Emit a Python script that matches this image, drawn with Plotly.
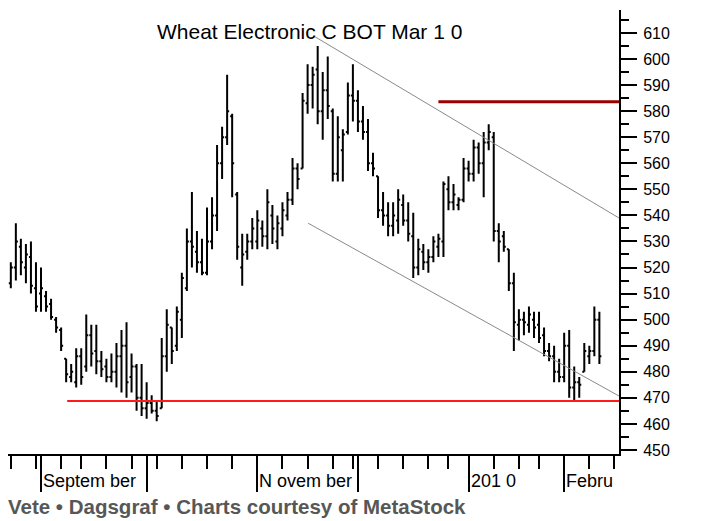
import plotly.graph_objects as go

# Daily bars, Aug 21 2009 - Feb 10 2010 (trading day index on the x axis)
opens = [508, 514, 520, 528, 520, 524, 512, 510, 509, 506, 500, 496, 485, 478, 476, 486, 482, 494, 488, 484,
         482, 478, 480, 486, 490, 478, 482, 470, 466, 468, 465, 466, 486, 497, 490, 500, 512, 530, 526, 522,
         518, 530, 540, 560, 570, 578, 548, 520, 526, 530, 530, 535, 532, 540, 530, 535, 540, 546, 558, 558,
         583, 590, 596, 580, 588, 580, 556, 565, 572, 586, 584, 576, 572, 560, 555, 542, 540, 536, 538, 544,
         538, 532, 520, 526, 522, 524, 528, 530, 550, 545, 544, 546, 558, 556, 566, 560, 568, 570, 534, 532,
         527, 514, 498, 500, 498, 500, 498, 494, 488, 486, 480, 478, 490, 474, 476, 480, 486, 488, 500]
highs = [521, 522, 537, 531, 529, 530, 522, 520, 511, 508, 501, 497, 485, 483, 489, 489, 502, 498, 498, 488,
         485, 487, 491, 496, 499, 487, 483, 483, 476, 471, 469, 493, 504, 497, 505, 518, 535, 549, 534, 531,
         543, 547, 567, 574, 594, 579, 549, 533, 533, 539, 542, 538, 550, 544, 540, 545, 549, 562, 560, 587,
         598, 597, 605, 595, 601, 581, 578, 573, 591, 598, 588, 582, 577, 564, 555, 549, 545, 545, 550, 548,
         545, 541, 531, 529, 527, 532, 533, 553, 555, 552, 547, 562, 561, 569, 568, 572, 575, 572, 537, 534,
         527, 518, 504, 503, 505, 503, 503, 497, 491, 490, 485, 495, 496, 482, 478, 491, 490, 505, 503]
lows = [507, 512, 515, 517, 514, 510, 503, 503, 503, 500, 495, 488, 476, 476, 474, 475, 480, 482, 479, 478,
        476, 476, 474, 472, 470, 472, 465, 463, 462, 464, 461, 466, 480, 483, 488, 493, 511, 520, 518, 517,
        517, 527, 534, 554, 567, 547, 523, 513, 523, 527, 527, 528, 527, 529, 527, 532, 538, 544, 550, 558,
        579, 581, 575, 569, 577, 553, 553, 553, 571, 576, 572, 569, 557, 555, 539, 536, 532, 532, 533, 536,
        530, 516, 517, 519, 518, 522, 524, 524, 542, 542, 542, 545, 553, 553, 556, 547, 565, 530, 522, 526,
        511, 488, 492, 494, 495, 493, 491, 486, 484, 476, 476, 476, 470, 469, 470, 480, 483, 486, 483]
closes = [518, 520, 530, 522, 525, 513, 505, 512, 505, 501, 497, 490, 479, 480, 486, 478, 494, 487, 484, 481,
          478, 480, 486, 490, 476, 482, 470, 466, 468, 465, 463, 486, 498, 488, 503, 516, 530, 528, 522, 518,
          530, 540, 560, 570, 580, 560, 528, 525, 530, 535, 538, 532, 545, 535, 537, 542, 546, 558, 554, 584,
          590, 594, 580, 588, 582, 556, 570, 571, 586, 584, 576, 572, 560, 558, 542, 540, 536, 540, 546, 538,
          533, 520, 527, 522, 524, 530, 531, 552, 545, 548, 546, 558, 556, 566, 560, 568, 572, 534, 530, 528,
          514, 499, 500, 499, 502, 497, 493, 488, 486, 480, 478, 490, 474, 476, 475, 488, 488, 500, 486]
days = list(range(len(closes)))

# x axis: weekly ticks (Mondays) and month starts
week_ticks = [1, 6, 11, 15, 20, 25, 30, 35, 40, 45, 50, 55, 60, 65, 69, 74, 79, 84, 88, 92, 97, 102, 106, 111, 116, 121]
month_starts = [7, 28, 50, 70, 92, 111]
month_labels = ["Septem ber", "", "N ovem ber", "", "201 0", "Febru"]
price_ticks = list(range(450, 620, 10))

# drawn levels and trend channel (day index, price)
support_level = 468.8
support_from = 12.2
resistance_level = 583.6
resistance_from = 86
upper_trend = [(61.5, 608.5), (121.9, 539.0)]
lower_trend = [(60.1, 537.0), (121.9, 470.7)]

x_range = [0.44, 121.9]
y_range = [448.45, 618.8]

FONT = "Liberation Sans, Arial, sans-serif"

fig = go.Figure(go.Ohlc(
    x=days, open=opens, high=highs, low=lows, close=closes,
    increasing_line_color="black", decreasing_line_color="black",
    line_width=2, tickwidth=0.4, showlegend=False, hoverinfo="skip",
))

fig.add_shape(type="line", x0=support_from, x1=x_range[1], y0=support_level, y1=support_level,
              line=dict(color="#ff1a1a", width=2))
fig.add_shape(type="line", x0=resistance_from, x1=x_range[1], y0=resistance_level, y1=resistance_level,
              line=dict(color="#990000", width=3))
for (xa, ya), (xb, yb) in (upper_trend, lower_trend):
    fig.add_shape(type="line", x0=xa, y0=ya, x1=xb, y1=yb, line=dict(color="#8a8a8a", width=1))

for pos, lab in zip(month_starts, month_labels):
    if lab:
        fig.add_annotation(x=pos, y=0, xref="x", yref="paper", text=lab, showarrow=False,
                           xanchor="left", yanchor="middle", xshift=0, yshift=-27,
                           font=dict(family=FONT, size=18, color="black"))

fig.add_annotation(x=0.494, y=1, xref="paper", yref="paper", text="Wheat Electronic C BOT Mar 1 0",
                   showarrow=False, xanchor="center", yanchor="middle", yshift=-21,
                   font=dict(family=FONT, size=21, color="black"))
fig.add_annotation(x=0, y=0, xref="paper", yref="paper",
                   text="<b>Vete • Dagsgraf • Charts courtesy of MetaStock</b>",
                   showarrow=False, xanchor="left", yanchor="middle", xshift=-2, yshift=-52,
                   font=dict(family=FONT, size=20.5, color="#575757"))

# page body keeps an 8px margin, so the figure is 8px smaller and the plot sits 8px further up/left
fig.update_layout(
    width=699, height=513,
    margin=dict(l=0, r=88, t=2, b=67),
    paper_bgcolor="white", plot_bgcolor="white",
    showlegend=False,
    xaxis=dict(
        range=x_range, rangeslider=dict(visible=False),
        showgrid=False, zeroline=False,
        showline=True, linecolor="black", linewidth=2,
        tickmode="array", tickvals=month_starts, ticks="outside", ticklen=36,
        tickwidth=1.5, tickcolor="black", showticklabels=False,
        minor=dict(tickmode="array", tickvals=week_ticks, ticks="outside", ticklen=13,
                   tickwidth=1.5, tickcolor="black"),
    ),
    yaxis=dict(
        range=y_range, side="right",
        showgrid=False, zeroline=False,
        showline=True, linecolor="black", linewidth=2,
        tickmode="array", tickvals=price_ticks, ticks="outside", ticklen=16,
        tickwidth=1.5, tickcolor="black", ticklabelstandoff=3,
        tickfont=dict(family=FONT, size=16, color="black"),
        minor=dict(dtick=5, tick0=0, ticks="outside", ticklen=8, tickwidth=1.5, tickcolor="black"),
    ),
)

fig.write_html("out.html")
